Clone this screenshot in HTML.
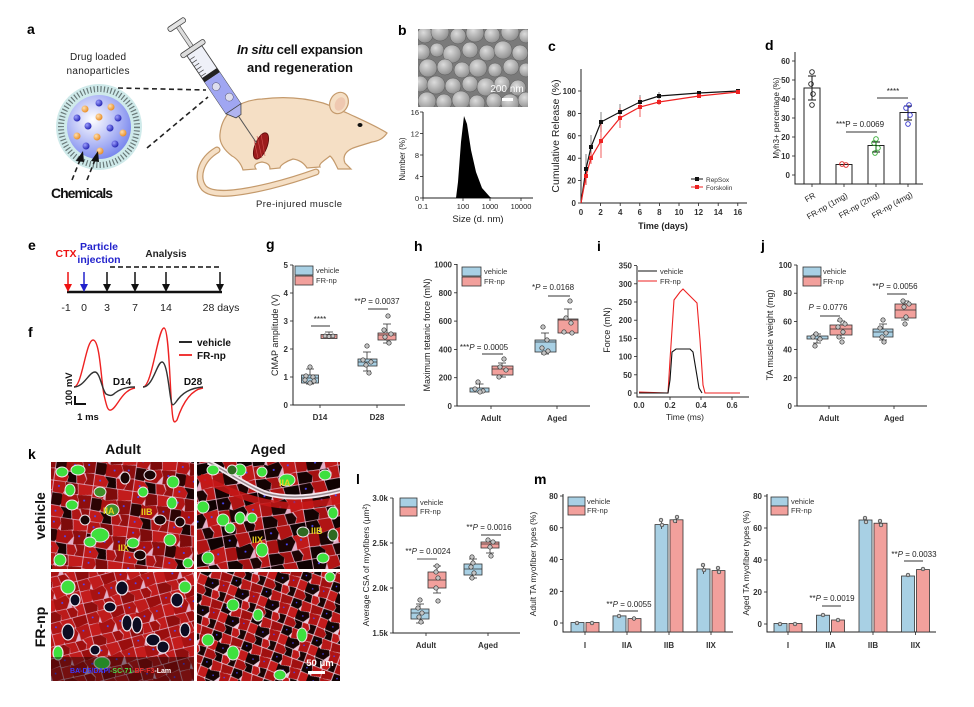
<!DOCTYPE html>
<html><head><meta charset="utf-8"><style>
html,body{margin:0;padding:0;background:#fff;}
svg{display:block;font-family:"Liberation Sans",Arial,sans-serif;}
.ax{stroke:#222;stroke-width:1;fill:none}
.tk{font-size:8px;fill:#333;font-weight:bold}
.tl{font-size:9px;fill:#222}
.bx{stroke:#333;stroke-width:.8}
.v{fill:#a8d0e4}.f{fill:#f2a09c}
.pt{fill:#c4c4c4;stroke:#333;stroke-width:.7}
.wl{stroke:#333;stroke-width:.8;fill:none}
.lt{font-size:14px;font-weight:bold;fill:#000}
.pv{font-size:8px;fill:#222}
.lg{font-size:7.5px;fill:#333}
.yl{font-size:9px;fill:#222}
</style></head><body>
<svg width="974" height="707" viewBox="0 0 974 707" xmlns="http://www.w3.org/2000/svg">
<defs>
<radialGradient id="sph" cx="40%" cy="38%" r="65%"><stop offset="0" stop-color="#ffffff"/><stop offset=".45" stop-color="#c4caf8"/><stop offset="1" stop-color="#7a88ee"/></radialGradient>
<radialGradient id="bd" cx="35%" cy="35%" r="70%"><stop offset="0" stop-color="#9ea0ff"/><stop offset="1" stop-color="#2020b0"/></radialGradient>
<radialGradient id="od" cx="35%" cy="35%" r="70%"><stop offset="0" stop-color="#ffe0b0"/><stop offset="1" stop-color="#e88a20"/></radialGradient>
<radialGradient id="sem" cx="40%" cy="35%" r="70%"><stop offset="0" stop-color="#dcdcdc"/><stop offset="1" stop-color="#8c8c8c"/></radialGradient>
<pattern id="cA" width="40" height="36" patternUnits="userSpaceOnUse" patternTransform="rotate(8) scale(1.0)">
<rect width="40" height="36" fill="#e2b0c8"/>
<g stroke-width=".8" stroke-linejoin="round">
<polygon points="0.8,0.8 11,0.5 13,6 10.5,11.5 0.8,11" fill="#b31515" stroke="#b31515"/>
<polygon points="12.5,0.5 24,0.8 25.5,10 14.5,12.5 14,6.5" fill="#7e0b0b" stroke="#7e0b0b"/>
<polygon points="25.5,0.8 39.2,0.8 39.2,9 27,11" fill="#c21c1c" stroke="#c21c1c"/>
<polygon points="0.8,12.5 9.5,12.5 13,18 9,24 0.8,23.5" fill="#2c0404" stroke="#2c0404"/>
<polygon points="11,12 14,13.5 24.5,11.5 27,17 22,24.5 11,24" fill="#a81212" stroke="#a81212"/>
<polygon points="26,11.8 39.2,10.5 39.2,23 28.5,24.5 28.5,17.5" fill="#8e0e0e" stroke="#8e0e0e"/>
<polygon points="0.8,25 9.5,25.5 14,30 12.5,35.2 0.8,35.2" fill="#c01a1a" stroke="#c01a1a"/>
<polygon points="11,25.5 21,26 22.5,35.2 14,35.2 15,30" fill="#1a0303" stroke="#1a0303"/>
<polygon points="22.5,26 29,25.8 32,31 30,35.2 24,35.2" fill="#b01616" stroke="#b01616"/>
<polygon points="31,25 39.2,24.5 39.2,35.2 31.5,35.2 33.5,30.5" fill="#951010" stroke="#951010"/>
</g>
<circle cx="6" cy="5" r="1" fill="#4848ff"/><circle cx="19" cy="18" r="1" fill="#4848ff"/><circle cx="33" cy="16" r="1" fill="#4848ff"/><circle cx="6" cy="30" r="1" fill="#4848ff"/>
</pattern>
<pattern id="cA2" width="40" height="36" patternUnits="userSpaceOnUse" patternTransform="rotate(-15) scale(.95)">
<rect width="40" height="36" fill="#e2b0c8"/>
<g stroke-width=".8" stroke-linejoin="round">
<polygon points="0.8,0.8 11,0.5 13,6 10.5,11.5 0.8,11" fill="#b01616" stroke="#b01616"/>
<polygon points="12.5,0.5 24,0.8 25.5,10 14.5,12.5 14,6.5" fill="#c01c1c" stroke="#c01c1c"/>
<polygon points="25.5,0.8 39.2,0.8 39.2,9 27,11" fill="#9a0e0e" stroke="#9a0e0e"/>
<polygon points="0.8,12.5 9.5,12.5 13,18 9,24 0.8,23.5" fill="#c41c1c" stroke="#c41c1c"/>
<polygon points="11,12 14,13.5 24.5,11.5 27,17 22,24.5 11,24" fill="#a81212" stroke="#a81212"/>
<polygon points="26,11.8 39.2,10.5 39.2,23 28.5,24.5 28.5,17.5" fill="#b51818" stroke="#b51818"/>
<polygon points="0.8,25 9.5,25.5 14,30 12.5,35.2 0.8,35.2" fill="#8e0e0e" stroke="#8e0e0e"/>
<polygon points="11,25.5 21,26 22.5,35.2 14,35.2 15,30" fill="#bb1a1a" stroke="#bb1a1a"/>
<polygon points="22.5,26 29,25.8 32,31 30,35.2 24,35.2" fill="#a01010" stroke="#a01010"/>
<polygon points="31,25 39.2,24.5 39.2,35.2 31.5,35.2 33.5,30.5" fill="#c21c1c" stroke="#c21c1c"/>
</g>
<circle cx="6" cy="5" r="1" fill="#4848ff"/><circle cx="19" cy="18" r="1" fill="#4848ff"/><circle cx="33" cy="16" r="1" fill="#4848ff"/>
</pattern>
<pattern id="cB" width="40" height="36" patternUnits="userSpaceOnUse" patternTransform="rotate(-10) scale(1.05)">
<rect width="40" height="36" fill="#e2b0c8"/>
<g stroke-width=".8" stroke-linejoin="round">
<polygon points="0.8,0.8 11,0.5 13,6 10.5,11.5 0.8,11" fill="#160303" stroke="#160303"/>
<polygon points="12.5,0.5 24,0.8 25.5,10 14.5,12.5 14,6.5" fill="#b01414" stroke="#b01414"/>
<polygon points="25.5,0.8 39.2,0.8 39.2,9 27,11" fill="#100202" stroke="#100202"/>
<polygon points="0.8,12.5 9.5,12.5 13,18 9,24 0.8,23.5" fill="#a81212" stroke="#a81212"/>
<polygon points="11,12 14,13.5 24.5,11.5 27,17 22,24.5 11,24" fill="#1a0404" stroke="#1a0404"/>
<polygon points="26,11.8 39.2,10.5 39.2,23 28.5,24.5 28.5,17.5" fill="#c01a1a" stroke="#c01a1a"/>
<polygon points="0.8,25 9.5,25.5 14,30 12.5,35.2 0.8,35.2" fill="#140303" stroke="#140303"/>
<polygon points="11,25.5 21,26 22.5,35.2 14,35.2 15,30" fill="#a51212" stroke="#a51212"/>
<polygon points="22.5,26 29,25.8 32,31 30,35.2 24,35.2" fill="#1c0404" stroke="#1c0404"/>
<polygon points="31,25 39.2,24.5 39.2,35.2 31.5,35.2 33.5,30.5" fill="#b81818" stroke="#b81818"/>
</g>
<circle cx="6" cy="5" r="1" fill="#4848ff"/><circle cx="19" cy="18" r="1" fill="#4848ff"/><circle cx="33" cy="16" r="1" fill="#4848ff"/>
</pattern>
<pattern id="cB2" width="40" height="36" patternUnits="userSpaceOnUse" patternTransform="rotate(20) scale(.8)">
<rect width="40" height="36" fill="#eccadb"/>
<g stroke-width=".6" stroke-linejoin="round">
<polygon points="0.8,0.8 11,0.5 13,6 10.5,11.5 0.8,11" fill="#120303" stroke="#120303"/>
<polygon points="12.5,0.5 24,0.8 25.5,10 14.5,12.5 14,6.5" fill="#b81818" stroke="#b81818"/>
<polygon points="25.5,0.8 39.2,0.8 39.2,9 27,11" fill="#a01010" stroke="#a01010"/>
<polygon points="0.8,12.5 9.5,12.5 13,18 9,24 0.8,23.5" fill="#c41c1c" stroke="#c41c1c"/>
<polygon points="11,12 14,13.5 24.5,11.5 27,17 22,24.5 11,24" fill="#160404" stroke="#160404"/>
<polygon points="26,11.8 39.2,10.5 39.2,23 28.5,24.5 28.5,17.5" fill="#b01414" stroke="#b01414"/>
<polygon points="0.8,25 9.5,25.5 14,30 12.5,35.2 0.8,35.2" fill="#a81212" stroke="#a81212"/>
<polygon points="11,25.5 21,26 22.5,35.2 14,35.2 15,30" fill="#120303" stroke="#120303"/>
<polygon points="22.5,26 29,25.8 32,31 30,35.2 24,35.2" fill="#c01a1a" stroke="#c01a1a"/>
<polygon points="31,25 39.2,24.5 39.2,35.2 31.5,35.2 33.5,30.5" fill="#180404" stroke="#180404"/>
</g>
<circle cx="6" cy="5" r="1" fill="#4848ff"/><circle cx="19" cy="18" r="1" fill="#4848ff"/><circle cx="33" cy="16" r="1" fill="#4848ff"/>
</pattern>
<clipPath id="k1"><rect x="51" y="462" width="143" height="107"/></clipPath>
<clipPath id="k2"><rect x="197" y="462" width="143" height="107"/></clipPath>
<clipPath id="k3"><rect x="51" y="572" width="143" height="109"/></clipPath>
<clipPath id="k4"><rect x="197" y="572" width="143" height="109"/></clipPath>
<clipPath id="semc"><rect x="418" y="29" width="110" height="78"/></clipPath>
</defs>

<!-- panel letters -->
<text class="lt" x="27" y="34">a</text>
<text class="lt" x="398" y="35">b</text>
<text class="lt" x="548" y="51">c</text>
<text class="lt" x="765" y="50">d</text>
<text class="lt" x="28" y="250">e</text>
<text class="lt" x="28" y="337">f</text>
<text class="lt" x="266" y="249">g</text>
<text class="lt" x="414" y="251">h</text>
<text class="lt" x="597" y="251">i</text>
<text class="lt" x="761" y="250">j</text>
<text class="lt" x="28" y="459">k</text>
<text class="lt" x="356" y="484">l</text>
<text class="lt" x="534" y="484">m</text>

<!-- ===== Panel a ===== -->
<text x="98" y="60" font-size="10" text-anchor="middle" fill="#222" textLength="56">Drug loaded</text>
<text x="98" y="74" font-size="10" text-anchor="middle" fill="#222" textLength="63">nanoparticles</text>
<circle cx="99" cy="127" r="43" fill="#cfeaea"/>
<circle cx="99" cy="127" r="38" fill="none" stroke="#6a7a7a" stroke-width="6" stroke-dasharray="1.2 2.2"/>
<circle cx="99" cy="127" r="32" fill="url(#sph)"/>
<g fill="url(#bd)">
<circle cx="99" cy="103" r="3.5"/><circle cx="77" cy="118" r="3.5"/><circle cx="118" cy="118" r="3.5"/><circle cx="88" cy="126" r="3.5"/><circle cx="110" cy="128" r="3.5"/><circle cx="86" cy="146" r="3.5"/><circle cx="115" cy="144" r="3.5"/>
</g>
<g fill="url(#od)">
<circle cx="85" cy="109" r="3.5"/><circle cx="111" cy="107" r="3.5"/><circle cx="99" cy="117" r="3.5"/><circle cx="77" cy="136" r="3.5"/><circle cx="97" cy="137" r="3.5"/><circle cx="123" cy="133" r="3.5"/><circle cx="100" cy="151" r="3.5"/>
</g>
<g stroke="#222" stroke-width="1.6" stroke-dasharray="5 3.5" fill="none">
<line x1="118" y1="88" x2="206" y2="90"/>
<line x1="147" y1="148" x2="208" y2="97"/>
<line x1="72" y1="180" x2="80" y2="160"/>
<line x1="87" y1="180" x2="95" y2="160"/>
</g>
<polygon points="83,151 76,161 84,162" fill="#111"/>
<polygon points="98,151 91,161 99,162" fill="#111"/>
<text x="82" y="198" font-size="14" font-weight="bold" text-anchor="middle" fill="#111" textLength="62">Chemicals</text>
<!-- mouse tail -->
<path d="M217,150 C200,160 196,178 204,188 C214,198 245,192 270,186 C290,181 305,176 316,172" fill="none" stroke="#c49a6c" stroke-width="7" stroke-linecap="round"/>
<path d="M217,150 C200,160 196,178 204,188 C214,198 245,192 270,186 C290,181 305,176 316,172" fill="none" stroke="#f5dfc5" stroke-width="4.5" stroke-linecap="round"/>
<!-- mouse body -->
<path d="M220,134 C222,112 240,100 262,99 C285,96 305,98 323,103 C332,106 340,110 347,113 C362,120 378,127 387,133 C383,139 378,141 372,142 C366,144 362,145 356,147 C346,150 342,156 345,163 L351,169 L338,169 C335,163 333,158 330,156 C325,160 318,164 320,167 L307,168 C304,163 300,160 293,159 C287,161 280,165 280,168 L270,169 C270,165 268,163 262,162 C256,163 253,165 256,169 L243,170 C241,163 236,158 232,156 C224,150 219,143 220,134 Z" fill="#f5dfc5" stroke="#c49a6c" stroke-width="1.2"/>
<ellipse cx="339" cy="103" rx="9" ry="11" transform="rotate(25 339 103)" fill="#f5dfc5" stroke="#c49a6c" stroke-width="1.2"/>
<ellipse cx="340" cy="104" rx="5" ry="7" transform="rotate(25 340 104)" fill="#efc8b0"/>
<ellipse cx="360" cy="125" rx="2.5" ry="2" fill="#111"/>
<ellipse cx="261" cy="146" rx="6" ry="14" transform="rotate(22 261 146)" fill="#9b1c1c" stroke="#5a0a0a" stroke-width=".8"/>
<g stroke="#d05050" stroke-width=".6"><line x1="257" y1="136" x2="262" y2="158"/><line x1="261" y1="134" x2="265" y2="156"/><line x1="254" y1="140" x2="258" y2="158"/></g>
<text x="299" y="207" font-size="9.5" text-anchor="middle" fill="#222" textLength="86">Pre-injured muscle</text>
<text x="300" y="54" font-size="13" font-weight="bold" text-anchor="middle" fill="#111" textLength="126"><tspan font-style="italic">In situ</tspan> cell expansion</text>
<text x="300" y="72" font-size="13" font-weight="bold" text-anchor="middle" fill="#111" textLength="106">and regeneration</text>
<!-- syringe -->
<g transform="translate(177,25) rotate(-34)">
<rect x="-10" y="-3" width="20" height="5" rx="2" fill="#e4e4e4" stroke="#444" stroke-width=".8"/>
<rect x="-2" y="2" width="4" height="26" fill="#ddd" stroke="#555" stroke-width=".7"/>
<rect x="-14" y="26" width="28" height="5" rx="2" fill="#ddd" stroke="#444" stroke-width=".8"/>
<rect x="-9" y="31" width="18" height="70" fill="#eef0f8" stroke="#444" stroke-width=".9"/>
<g stroke="#444" stroke-width=".7"><line x1="-9" y1="36" x2="-3" y2="36"/><line x1="-9" y1="40" x2="-3" y2="40"/><line x1="-9" y1="44" x2="-3" y2="44"/><line x1="-9" y1="48" x2="-3" y2="48"/><line x1="-9" y1="52" x2="-3" y2="52"/><line x1="-9" y1="56" x2="-3" y2="56"/></g>
<rect x="-9" y="58" width="18" height="5" fill="#222"/>
<rect x="-9" y="63" width="18" height="38" fill="#a0a6f2"/>
<circle cx="-2" cy="73" r="4" fill="#dde" stroke="#557" stroke-width=".5"/>
<circle cx="3" cy="89" r="4" fill="#dde" stroke="#557" stroke-width=".5"/>
<path d="M-9,101 L9,101 L3,110 L-3,110 Z" fill="#b0b4f0" stroke="#444" stroke-width=".8"/>
<line x1="0" y1="110" x2="0" y2="142" stroke="#555" stroke-width="1"/>
</g>

<!-- ===== Panel b ===== -->
<g clip-path="url(#semc)">
<rect x="418" y="29" width="110" height="78" fill="#7a7a7a"/>
<g fill="url(#sem)" stroke="#5a5a5a" stroke-width=".5">
<circle cx="425" cy="35" r="8"/><circle cx="440" cy="32" r="9"/><circle cx="458" cy="36" r="8"/><circle cx="475" cy="33" r="9"/><circle cx="492" cy="35" r="8"/><circle cx="510" cy="32" r="9"/><circle cx="526" cy="36" r="7"/>
<circle cx="422" cy="52" r="8"/><circle cx="437" cy="50" r="7"/><circle cx="452" cy="54" r="9"/><circle cx="470" cy="50" r="8"/><circle cx="487" cy="53" r="8"/><circle cx="503" cy="50" r="9"/><circle cx="520" cy="53" r="8"/>
<circle cx="428" cy="68" r="9"/><circle cx="445" cy="67" r="8"/><circle cx="462" cy="70" r="8"/><circle cx="478" cy="68" r="9"/><circle cx="495" cy="70" r="7"/><circle cx="511" cy="67" r="8"/><circle cx="526" cy="70" r="7"/>
<circle cx="420" cy="84" r="8"/><circle cx="436" cy="85" r="9"/><circle cx="453" cy="86" r="8"/><circle cx="470" cy="84" r="8"/><circle cx="486" cy="87" r="9"/><circle cx="502" cy="84" r="8"/><circle cx="518" cy="88" r="8"/>
<circle cx="427" cy="101" r="9"/><circle cx="444" cy="102" r="8"/><circle cx="461" cy="100" r="9"/><circle cx="477" cy="103" r="8"/><circle cx="494" cy="101" r="8"/><circle cx="510" cy="103" r="9"/><circle cx="526" cy="100" r="8"/>
</g>
</g>
<text x="507" y="92" font-size="10" fill="#fff" text-anchor="middle">200 nm</text>
<rect x="502" y="98" width="11" height="3" fill="#fff"/>
<path class="ax" d="M423,112 V198 H533"/>
<g stroke="#222" stroke-width=".8"><line x1="420" y1="112" x2="423" y2="112"/><line x1="420" y1="133.5" x2="423" y2="133.5"/><line x1="420" y1="155" x2="423" y2="155"/><line x1="420" y1="176.5" x2="423" y2="176.5"/><line x1="420" y1="198" x2="423" y2="198"/>
<line x1="423" y1="198" x2="423" y2="201"/><line x1="463" y1="198" x2="463" y2="201"/><line x1="490" y1="198" x2="490" y2="201"/><line x1="521" y1="198" x2="521" y2="201"/></g>
<g font-size="7.5" fill="#222" text-anchor="end"><text x="419" y="115">16</text><text x="419" y="136.5">12</text><text x="419" y="158">8</text><text x="419" y="179.5">4</text><text x="419" y="201">0</text></g>
<g font-size="7.5" fill="#222" text-anchor="middle"><text x="423" y="209">0.1</text><text x="463" y="209">100</text><text x="490" y="209">1000</text><text x="521" y="209">10000</text></g>
<text x="478" y="222" font-size="9.5" text-anchor="middle" fill="#222">Size (d. nm)</text>
<text transform="translate(405,159) rotate(-90)" font-size="8" text-anchor="middle" fill="#222">Number (%)</text>
<path d="M456,198 L458,182 L461,142 L464,116 L467,124 L471,150 L476,172 L482,188 L490,197 L492,198 Z" fill="#000"/>

<!-- ===== Panel c ===== -->
<path class="ax" d="M581,69 V203 H747"/>
<g stroke="#222" stroke-width=".8">
<line x1="578" y1="203" x2="581" y2="203"/><line x1="578" y1="180.6" x2="581" y2="180.6"/><line x1="578" y1="158.2" x2="581" y2="158.2"/><line x1="578" y1="135.8" x2="581" y2="135.8"/><line x1="578" y1="113.4" x2="581" y2="113.4"/><line x1="578" y1="91" x2="581" y2="91"/>
<line x1="600.6" y1="203" x2="600.6" y2="206"/><line x1="620.2" y1="203" x2="620.2" y2="206"/><line x1="639.8" y1="203" x2="639.8" y2="206"/><line x1="659.4" y1="203" x2="659.4" y2="206"/><line x1="679" y1="203" x2="679" y2="206"/><line x1="698.6" y1="203" x2="698.6" y2="206"/><line x1="718.2" y1="203" x2="718.2" y2="206"/><line x1="737.8" y1="203" x2="737.8" y2="206"/>
</g>
<g class="tk" text-anchor="end"><text x="576" y="206">0</text><text x="576" y="183.6">20</text><text x="576" y="161.2">40</text><text x="576" y="138.8">60</text><text x="576" y="116.4">80</text><text x="576" y="94">100</text></g>
<g class="tk" text-anchor="middle"><text x="581" y="215">0</text><text x="600.6" y="215">2</text><text x="620.2" y="215">4</text><text x="639.8" y="215">6</text><text x="659.4" y="215">8</text><text x="679" y="215">10</text><text x="698.6" y="215">12</text><text x="718.2" y="215">14</text><text x="737.8" y="215">16</text></g>
<text x="663" y="229" font-size="9" font-weight="bold" text-anchor="middle" fill="#222">Time (days)</text>
<text transform="translate(559,136) rotate(-90)" font-size="10.5" text-anchor="middle" fill="#222">Cumulative Release (%)</text>
<g stroke="#666" stroke-width=".8">
<line x1="586" y1="154" x2="586" y2="185"/><line x1="591" y1="135" x2="591" y2="159"/><line x1="601" y1="112" x2="601" y2="132"/><line x1="620" y1="104" x2="620" y2="120"/><line x1="640" y1="95" x2="640" y2="109"/><line x1="659" y1="92" x2="659" y2="99"/>
</g>
<g stroke="#e33" stroke-width=".8">
<line x1="586" y1="167" x2="586" y2="185"/><line x1="591" y1="152" x2="591" y2="164"/><line x1="601" y1="124" x2="601" y2="158"/><line x1="620" y1="108" x2="620" y2="128"/><line x1="640" y1="97" x2="640" y2="117"/><line x1="659" y1="99" x2="659" y2="105"/>
</g>
<polyline points="581,203 586,169 591,147 601,122 620,112 640,102 659,96 699,93 738,91" fill="none" stroke="#111" stroke-width="1.2"/>
<polyline points="581,203 586,176 591,158 601,141 620,118 640,107 659,102 699,96 738,92" fill="none" stroke="#e22" stroke-width="1.2"/>
<g fill="#111"><rect x="584" y="167" width="4" height="4"/><rect x="589" y="145" width="4" height="4"/><rect x="599" y="120" width="4" height="4"/><rect x="618" y="110" width="4" height="4"/><rect x="638" y="100" width="4" height="4"/><rect x="657" y="94" width="4" height="4"/><rect x="697" y="91" width="4" height="4"/><rect x="736" y="89" width="4" height="4"/></g>
<g fill="#e22"><rect x="584" y="174" width="4" height="4"/><rect x="589" y="156" width="4" height="4"/><rect x="599" y="139" width="4" height="4"/><rect x="618" y="116" width="4" height="4"/><rect x="638" y="105" width="4" height="4"/><rect x="657" y="100" width="4" height="4"/><rect x="697" y="94" width="4" height="4"/><rect x="736" y="90" width="4" height="4"/></g>
<line x1="691" y1="179" x2="703" y2="179" stroke="#111"/><rect x="695" y="177" width="4" height="4" fill="#111"/>
<text x="706" y="182" font-size="6.5" fill="#333">RepSox</text>
<line x1="691" y1="187" x2="703" y2="187" stroke="#e22"/><rect x="695" y="185" width="4" height="4" fill="#e22"/>
<text x="706" y="190" font-size="6.5" fill="#333">Forskolin</text>

<!-- ===== Panel d ===== -->
<path class="ax" d="M795,52 V184 H923"/>
<g stroke="#222" stroke-width=".8"><line x1="792" y1="175" x2="795" y2="175"/><line x1="792" y1="156" x2="795" y2="156"/><line x1="792" y1="137" x2="795" y2="137"/><line x1="792" y1="118" x2="795" y2="118"/><line x1="792" y1="99" x2="795" y2="99"/><line x1="792" y1="80" x2="795" y2="80"/><line x1="792" y1="61" x2="795" y2="61"/>
<line x1="812" y1="184" x2="812" y2="187"/><line x1="844" y1="184" x2="844" y2="187"/><line x1="876" y1="184" x2="876" y2="187"/><line x1="908" y1="184" x2="908" y2="187"/></g>
<g class="tk" text-anchor="end"><text x="790" y="178">0</text><text x="790" y="159">10</text><text x="790" y="140">20</text><text x="790" y="121">30</text><text x="790" y="102">40</text><text x="790" y="83">50</text><text x="790" y="64">60</text></g>
<text transform="translate(779,118) rotate(-90)" font-size="8" text-anchor="middle" fill="#222">Myh3+ percentage (%)</text>
<g fill="#fff" stroke="#222" stroke-width="1"><rect x="804" y="88" width="16" height="96"/><rect x="836" y="164.5" width="16" height="19.5"/><rect x="868" y="145.5" width="16" height="38.5"/><rect x="900" y="112.5" width="16" height="71.5"/></g>
<g stroke="#111" stroke-width="1"><line x1="812" y1="76" x2="812" y2="100"/><line x1="808" y1="76" x2="816" y2="76"/><line x1="808" y1="100" x2="816" y2="100"/>
<line x1="876" y1="142" x2="876" y2="152"/><line x1="872" y1="142" x2="880" y2="142"/><line x1="872" y1="152" x2="880" y2="152"/>
<line x1="908" y1="106" x2="908" y2="120"/><line x1="904" y1="106" x2="912" y2="106"/><line x1="904" y1="120" x2="912" y2="120"/></g>
<g fill="none" stroke-width=".9"><g stroke="#222"><circle cx="812" cy="72" r="2.3"/><circle cx="811" cy="84" r="2.3"/><circle cx="813" cy="94" r="2.3"/><circle cx="812" cy="105" r="2.3"/></g>
<g stroke="#d22"><circle cx="842" cy="164" r="2.3"/><circle cx="846" cy="165" r="2.3"/></g>
<g stroke="#3a3"><circle cx="876" cy="139" r="2.3"/><circle cx="874" cy="143" r="2.3"/><circle cx="878" cy="148" r="2.3"/><circle cx="875" cy="153" r="2.3"/></g>
<g stroke="#33c"><circle cx="909" cy="105" r="2.3"/><circle cx="906" cy="108" r="2.3"/><circle cx="910" cy="115" r="2.3"/><circle cx="908" cy="124" r="2.3"/></g></g>
<line x1="846" y1="132" x2="877" y2="132" stroke="#333" stroke-width=".9"/>
<text x="860" y="127" class="pv" text-anchor="middle">***P = 0.0069</text>
<line x1="877" y1="98" x2="908" y2="98" stroke="#333" stroke-width=".9"/>
<text x="893" y="94" class="pv" text-anchor="middle">****</text>
<g font-size="8" fill="#222" text-anchor="end">
<text transform="translate(816,197) rotate(-30)">FR</text>
<text transform="translate(848,197) rotate(-30)">FR-np (1mg)</text>
<text transform="translate(880,196) rotate(-30)">FR-np (2mg)</text>
<text transform="translate(913,196) rotate(-30)">FR-np (4mg)</text>
</g>

<!-- ===== Panel e ===== -->
<text x="66" y="257" font-size="10.5" font-weight="bold" fill="#e11" text-anchor="middle">CTX</text>
<text x="99" y="250" font-size="10.5" font-weight="bold" fill="#22c" text-anchor="middle">Particle</text>
<text x="99" y="263" font-size="10.5" font-weight="bold" fill="#22c" text-anchor="middle">injection</text>
<text x="166" y="257" font-size="10" font-weight="bold" fill="#222" text-anchor="middle">Analysis</text>
<line x1="110" y1="267" x2="222" y2="267" stroke="#111" stroke-width="1.5" stroke-dasharray="5 3"/>
<line x1="67" y1="292" x2="222" y2="292" stroke="#111" stroke-width="2.5"/>
<g stroke-width="1.5">
<line x1="68" y1="272" x2="68" y2="286" stroke="#e11"/><polygon points="64,284 72,284 68,292" fill="#e11"/>
<line x1="84" y1="272" x2="84" y2="286" stroke="#22c"/><polygon points="80,284 88,284 84,292" fill="#22c"/>
<line x1="107" y1="272" x2="107" y2="286" stroke="#111"/><polygon points="103,284 111,284 107,292" fill="#111"/>
<line x1="135" y1="272" x2="135" y2="286" stroke="#111"/><polygon points="131,284 139,284 135,292" fill="#111"/>
<line x1="166" y1="272" x2="166" y2="286" stroke="#111"/><polygon points="162,284 170,284 166,292" fill="#111"/>
<line x1="220" y1="272" x2="220" y2="286" stroke="#111"/><polygon points="216,284 224,284 220,292" fill="#111"/>
</g>
<g font-size="10.5" fill="#222" text-anchor="middle"><text x="66" y="311">-1</text><text x="84" y="311">0</text><text x="107" y="311">3</text><text x="135" y="311">7</text><text x="166" y="311">14</text><text x="221" y="311">28 days</text></g>

<!-- ===== Panel f ===== -->
<path d="M74,387 C82,387 86,340 93,340 C100,340 101,380 104,395 C107,408 108,411 111,410 C117,408 122,390 135,388" fill="none" stroke="#e22" stroke-width="1.4"/>
<path d="M74,387 C84,387 89,372 95,372 C100,372 102,390 106,394 C110,396 112,396 115,393 C120,389 126,387 135,387" fill="none" stroke="#333" stroke-width="1.4"/>
<path d="M143,387 C152,387 158,328 164,328 C169,328 170,390 172,410 C173,422 174,424 177,420 C182,405 190,390 203,388" fill="none" stroke="#e22" stroke-width="1.4"/>
<path d="M143,387 C153,387 157,362 162,362 C167,362 169,390 171,400 C172,406 173,406 176,402 C182,393 190,388 203,387" fill="none" stroke="#333" stroke-width="1.4"/>
<text x="122" y="385" font-size="10" font-weight="bold" fill="#111" text-anchor="middle">D14</text>
<text x="193" y="385" font-size="10" font-weight="bold" fill="#111" text-anchor="middle">D28</text>
<line x1="179" y1="342" x2="192" y2="342" stroke="#111" stroke-width="1.8"/>
<text x="197" y="346" font-size="10" font-weight="bold" fill="#111">vehicle</text>
<line x1="179" y1="355" x2="192" y2="355" stroke="#e22" stroke-width="1.8"/>
<text x="197" y="359" font-size="10" font-weight="bold" fill="#111">FR-np</text>
<path d="M75,396 V404 H86" fill="none" stroke="#111" stroke-width="2"/>
<text transform="translate(72,389) rotate(-90)" font-size="9.5" font-weight="bold" fill="#111" text-anchor="middle">100 mV</text>
<text x="88" y="420" font-size="9.5" font-weight="bold" fill="#111" text-anchor="middle">1 ms</text>

<!-- ===== Panel g ===== -->
<path class="ax" d="M293,265 V405 H405"/>
<g stroke="#222" stroke-width=".8"><line x1="290" y1="405" x2="293" y2="405"/><line x1="290" y1="377" x2="293" y2="377"/><line x1="290" y1="349" x2="293" y2="349"/><line x1="290" y1="321" x2="293" y2="321"/><line x1="290" y1="293" x2="293" y2="293"/><line x1="290" y1="265" x2="293" y2="265"/><line x1="320" y1="405" x2="320" y2="408"/><line x1="377" y1="405" x2="377" y2="408"/></g>
<g class="tk" text-anchor="end"><text x="288" y="408">0</text><text x="288" y="380">1</text><text x="288" y="352">2</text><text x="288" y="324">3</text><text x="288" y="296">4</text><text x="288" y="268">5</text></g>
<g class="tk" text-anchor="middle"><text x="320" y="420">D14</text><text x="377" y="420">D28</text></g>
<text transform="translate(278,335) rotate(-90)" class="yl" text-anchor="middle">CMAP amplitude (V)</text>
<rect x="295" y="266" width="18" height="9" class="v bx"/><rect x="295" y="276" width="18" height="9" class="f bx"/>
<text x="316" y="273" class="lg">vehicle</text><text x="316" y="283" class="lg">FR-np</text>
<g class="wl"><line x1="310" y1="369" x2="310" y2="384"/><line x1="306" y1="369" x2="314" y2="369"/><line x1="306" y1="384" x2="314" y2="384"/></g>
<rect x="301.5" y="375" width="17" height="8" class="v bx"/><line x1="301.5" y1="378" x2="318.5" y2="378" class="wl"/>
<g class="pt"><circle cx="310" cy="367" r="2.2"/><circle cx="306" cy="376" r="2.2"/><circle cx="313" cy="377" r="2.2"/><circle cx="305" cy="380" r="2.2"/><circle cx="314" cy="381" r="2.2"/><circle cx="310" cy="383" r="2.2"/></g>
<g class="wl"><line x1="329" y1="332" x2="329" y2="339"/><line x1="325" y1="332" x2="333" y2="332"/></g>
<rect x="321" y="334.5" width="16" height="4" class="f bx"/>
<g class="pt"><circle cx="325" cy="336" r="2"/><circle cx="329" cy="336.5" r="2"/><circle cx="333" cy="336" r="2"/></g>
<g class="wl"><line x1="367" y1="352" x2="367" y2="371"/><line x1="363" y1="352" x2="371" y2="352"/><line x1="363" y1="371" x2="371" y2="371"/></g>
<rect x="358" y="359" width="19" height="7" class="v bx"/><line x1="358" y1="362" x2="377" y2="362" class="wl"/>
<g class="pt"><circle cx="367" cy="346" r="2.2"/><circle cx="363" cy="360" r="2.2"/><circle cx="371" cy="362" r="2.2"/><circle cx="366" cy="365" r="2.2"/><circle cx="369" cy="373" r="2.2"/></g>
<g class="wl"><line x1="387" y1="324" x2="387" y2="343"/><line x1="383" y1="324" x2="391" y2="324"/><line x1="383" y1="343" x2="391" y2="343"/></g>
<rect x="378" y="333" width="18" height="7" class="f bx"/><line x1="378" y1="335" x2="396" y2="335" class="wl"/>
<g class="pt"><circle cx="388" cy="316" r="2.2"/><circle cx="384" cy="330" r="2.2"/><circle cx="391" cy="334" r="2.2"/><circle cx="385" cy="337" r="2.2"/><circle cx="389" cy="343" r="2.2"/></g>
<line x1="311" y1="326" x2="330" y2="326" stroke="#333" stroke-width=".9"/><text x="320" y="322" class="pv" text-anchor="middle">****</text>
<line x1="368" y1="309" x2="388" y2="309" stroke="#333" stroke-width=".9"/><text x="377" y="304" class="pv" text-anchor="middle">**<tspan font-style="italic">P</tspan> = 0.0037</text>

<!-- ===== Panel h ===== -->
<path class="ax" d="M457,264 V406 H590"/>
<g stroke="#222" stroke-width=".8"><line x1="454" y1="406" x2="457" y2="406"/><line x1="454" y1="377.7" x2="457" y2="377.7"/><line x1="454" y1="349.4" x2="457" y2="349.4"/><line x1="454" y1="321.1" x2="457" y2="321.1"/><line x1="454" y1="292.8" x2="457" y2="292.8"/><line x1="454" y1="264.5" x2="457" y2="264.5"/><line x1="491" y1="406" x2="491" y2="409"/><line x1="557" y1="406" x2="557" y2="409"/></g>
<g class="tk" text-anchor="end"><text x="452" y="409">0</text><text x="452" y="380.7">200</text><text x="452" y="352.4">400</text><text x="452" y="324.1">600</text><text x="452" y="295.8">800</text><text x="452" y="267.5">1000</text></g>
<g class="tk" text-anchor="middle"><text x="491" y="421">Adult</text><text x="557" y="421">Aged</text></g>
<text transform="translate(430,335) rotate(-90)" class="yl" text-anchor="middle">Maximum tetanic force (mN)</text>
<rect x="462" y="267" width="19" height="9" class="v bx"/><rect x="462" y="277" width="19" height="9" class="f bx"/>
<text x="484" y="274" class="lg">vehicle</text><text x="484" y="284" class="lg">FR-np</text>
<g class="wl"><line x1="479.5" y1="384" x2="479.5" y2="393"/><line x1="475.5" y1="384" x2="483.5" y2="384"/></g>
<rect x="470" y="388" width="19" height="4" class="v bx"/>
<g class="pt"><circle cx="478" cy="382" r="2.2"/><circle cx="475" cy="389" r="2.2"/><circle cx="483" cy="391" r="2.2"/><circle cx="480" cy="392" r="2.2"/></g>
<g class="wl"><line x1="502" y1="363" x2="502" y2="377"/><line x1="498" y1="363" x2="506" y2="363"/><line x1="498" y1="377" x2="506" y2="377"/></g>
<rect x="492" y="366" width="21" height="9" class="f bx"/><line x1="492" y1="369" x2="513" y2="369" class="wl"/>
<g class="pt"><circle cx="504" cy="359" r="2.2"/><circle cx="500" cy="367" r="2.2"/><circle cx="506" cy="370" r="2.2"/><circle cx="499" cy="377" r="2.2"/></g>
<g class="wl"><line x1="545" y1="333" x2="545" y2="354"/><line x1="541" y1="333" x2="549" y2="333"/><line x1="541" y1="354" x2="549" y2="354"/></g>
<rect x="535" y="340" width="21" height="12" class="v bx"/><line x1="535" y1="342" x2="556" y2="342" class="wl"/>
<g class="pt"><circle cx="543" cy="327" r="2.2"/><circle cx="547" cy="340" r="2.2"/><circle cx="542" cy="348" r="2.2"/><circle cx="548" cy="351" r="2.2"/><circle cx="544" cy="353" r="2.2"/></g>
<g class="wl"><line x1="568" y1="309" x2="568" y2="333"/><line x1="564" y1="309" x2="572" y2="309"/></g>
<rect x="558" y="319" width="20" height="14" class="f bx"/><line x1="558" y1="320" x2="578" y2="320" class="wl"/>
<g class="pt"><circle cx="570" cy="301" r="2.2"/><circle cx="566" cy="318" r="2.2"/><circle cx="571" cy="323" r="2.2"/><circle cx="564" cy="332" r="2.2"/><circle cx="572" cy="333" r="2.2"/></g>
<line x1="482" y1="354" x2="503" y2="354" stroke="#333" stroke-width=".9"/><text x="484" y="350" class="pv" text-anchor="middle">***<tspan font-style="italic">P</tspan> = 0.0005</text>
<line x1="548" y1="296" x2="570" y2="296" stroke="#333" stroke-width=".9"/><text x="553" y="290" class="pv" text-anchor="middle">*<tspan font-style="italic">P</tspan> = 0.0168</text>

<!-- ===== Panel i ===== -->
<path class="ax" d="M637,266 V397 H749"/>
<g stroke="#222" stroke-width=".8"><line x1="634" y1="393" x2="637" y2="393"/><line x1="634" y1="374.8" x2="637" y2="374.8"/><line x1="634" y1="356.6" x2="637" y2="356.6"/><line x1="634" y1="338.4" x2="637" y2="338.4"/><line x1="634" y1="320.2" x2="637" y2="320.2"/><line x1="634" y1="302" x2="637" y2="302"/><line x1="634" y1="283.8" x2="637" y2="283.8"/><line x1="634" y1="265.6" x2="637" y2="265.6"/>
<line x1="670" y1="397" x2="670" y2="400"/><line x1="701" y1="397" x2="701" y2="400"/><line x1="732" y1="397" x2="732" y2="400"/></g>
<g class="tk" text-anchor="end"><text x="632" y="396">0</text><text x="632" y="377.8">50</text><text x="632" y="359.6">100</text><text x="632" y="341.4">150</text><text x="632" y="323.2">200</text><text x="632" y="305">250</text><text x="632" y="286.8">300</text><text x="632" y="268.6">350</text></g>
<g class="tk" text-anchor="middle"><text x="639" y="408">0.0</text><text x="670" y="408">0.2</text><text x="701" y="408">0.4</text><text x="732" y="408">0.6</text></g>
<text x="685" y="420" font-size="8.5" fill="#222" text-anchor="middle">Time (ms)</text>
<text transform="translate(610,330) rotate(-90)" class="yl" text-anchor="middle">Force (mN)</text>
<line x1="638" y1="271" x2="657" y2="271" stroke="#111"/><text x="660" y="274" class="lg">vehicle</text>
<line x1="638" y1="281" x2="657" y2="281" stroke="#e22"/><text x="660" y="284" class="lg">FR-np</text>
<polyline points="639,392 668,393 670,360 674,300 680,292 683,289 686,292 690,296 694,300 697,303 700,340 703,385 705,393 740,393" fill="none" stroke="#e22" stroke-width="1.1"/>
<polyline points="639,393 668,393 670,380 672,352 676,349 690,349 693,352 696,370 699,388 702,393" fill="none" stroke="#111" stroke-width="1.1"/>

<!-- ===== Panel j ===== -->
<path class="ax" d="M797,265 V406 H927"/>
<g stroke="#222" stroke-width=".8"><line x1="794" y1="406" x2="797" y2="406"/><line x1="794" y1="377.8" x2="797" y2="377.8"/><line x1="794" y1="349.6" x2="797" y2="349.6"/><line x1="794" y1="321.4" x2="797" y2="321.4"/><line x1="794" y1="293.2" x2="797" y2="293.2"/><line x1="794" y1="265" x2="797" y2="265"/><line x1="829" y1="406" x2="829" y2="409"/><line x1="894" y1="406" x2="894" y2="409"/></g>
<g class="tk" text-anchor="end"><text x="792" y="409">0</text><text x="792" y="380.8">20</text><text x="792" y="352.6">40</text><text x="792" y="324.4">60</text><text x="792" y="296.2">80</text><text x="792" y="268">100</text></g>
<g class="tk" text-anchor="middle"><text x="829" y="421">Adult</text><text x="894" y="421">Aged</text></g>
<text transform="translate(773,335) rotate(-90)" class="yl" text-anchor="middle">TA muscle weight (mg)</text>
<rect x="803" y="267" width="18" height="9" class="v bx"/><rect x="803" y="277" width="18" height="9" class="f bx"/>
<text x="823" y="274" class="lg">vehicle</text><text x="823" y="284" class="lg">FR-np</text>
<g class="wl"><line x1="817" y1="334" x2="817" y2="343"/><line x1="813" y1="334" x2="821" y2="334"/><line x1="813" y1="343" x2="821" y2="343"/></g>
<rect x="807" y="336" width="21" height="3" class="v bx"/>
<g class="pt"><circle cx="816" cy="334" r="2.2"/><circle cx="813" cy="337" r="2.2"/><circle cx="820" cy="339" r="2.2"/><circle cx="815" cy="346" r="2.2"/></g>
<g class="wl"><line x1="841" y1="321" x2="841" y2="338"/><line x1="837" y1="321" x2="845" y2="321"/><line x1="837" y1="338" x2="845" y2="338"/></g>
<rect x="830" y="325" width="22" height="10" class="f bx"/><line x1="830" y1="329" x2="852" y2="329" class="wl"/>
<g class="pt"><circle cx="840" cy="320" r="2.2"/><circle cx="845" cy="324" r="2.2"/><circle cx="838" cy="327" r="2.2"/><circle cx="843" cy="332" r="2.2"/><circle cx="839" cy="337" r="2.2"/><circle cx="842" cy="342" r="2.2"/></g>
<g class="wl"><line x1="883" y1="324" x2="883" y2="340"/><line x1="879" y1="324" x2="887" y2="324"/><line x1="879" y1="340" x2="887" y2="340"/></g>
<rect x="873" y="329" width="20" height="8" class="v bx"/><line x1="873" y1="332" x2="893" y2="332" class="wl"/>
<g class="pt"><circle cx="883" cy="320" r="2.2"/><circle cx="880" cy="328" r="2.2"/><circle cx="886" cy="333" r="2.2"/><circle cx="882" cy="337" r="2.2"/><circle cx="884" cy="342" r="2.2"/></g>
<g class="wl"><line x1="905" y1="301" x2="905" y2="320"/><line x1="901" y1="301" x2="909" y2="301"/><line x1="901" y1="320" x2="909" y2="320"/></g>
<rect x="895" y="304" width="21" height="14" class="f bx"/><line x1="895" y1="310" x2="916" y2="310" class="wl"/>
<g class="pt"><circle cx="903" cy="301" r="2.2"/><circle cx="909" cy="304" r="2.2"/><circle cx="904" cy="307" r="2.2"/><circle cx="906" cy="317" r="2.2"/><circle cx="905" cy="324" r="2.2"/></g>
<line x1="820" y1="316" x2="840" y2="316" stroke="#333" stroke-width=".9"/><text x="828" y="310" class="pv" text-anchor="middle"><tspan font-style="italic">P</tspan> = 0.0776</text>
<line x1="887" y1="294" x2="907" y2="294" stroke="#333" stroke-width=".9"/><text x="895" y="289" class="pv" text-anchor="middle">**<tspan font-style="italic">P</tspan> = 0.0056</text>

<!-- ===== Panel k ===== -->
<text x="123" y="454" font-size="14" font-weight="bold" text-anchor="middle" fill="#111">Adult</text>
<text x="268" y="454" font-size="14" font-weight="bold" text-anchor="middle" fill="#111">Aged</text>
<text transform="translate(45,516) rotate(-90)" font-size="14" font-weight="bold" text-anchor="middle" fill="#111">vehicle</text>
<text transform="translate(45,627) rotate(-90)" font-size="14" font-weight="bold" text-anchor="middle" fill="#111">FR-np</text>
<!-- k1 -->
<g clip-path="url(#k1)">
<rect x="51" y="462" width="143" height="107" fill="url(#cA)"/>
<g stroke="#f0e4ec" stroke-width="1">
<g fill="#1a0606"><ellipse cx="150" cy="475" rx="6" ry="5"/><ellipse cx="125" cy="478" rx="5" ry="6"/><ellipse cx="160" cy="520" rx="6" ry="5"/><ellipse cx="85" cy="520" rx="5" ry="5"/><ellipse cx="140" cy="555" rx="6" ry="5"/><ellipse cx="180" cy="522" rx="5" ry="5"/></g>
<g fill="#3ee03e"><ellipse cx="62" cy="472" rx="6" ry="5"/><ellipse cx="78" cy="470" rx="7" ry="5"/><ellipse cx="70" cy="490" rx="5" ry="6"/><ellipse cx="143" cy="492" rx="5" ry="5"/><ellipse cx="173" cy="482" rx="6" ry="6"/><ellipse cx="72" cy="505" rx="6" ry="5"/><ellipse cx="100" cy="535" rx="9" ry="7"/><ellipse cx="90" cy="542" rx="6" ry="5"/><ellipse cx="133" cy="543" rx="6" ry="5"/><ellipse cx="170" cy="540" rx="6" ry="6"/><ellipse cx="60" cy="560" rx="6" ry="6"/><ellipse cx="188" cy="563" rx="5" ry="5"/><ellipse cx="172" cy="503" rx="5" ry="6"/></g>
<g fill="#3f8f2a"><ellipse cx="100" cy="492" rx="6" ry="5"/><ellipse cx="112" cy="510" rx="7" ry="6"/></g>
</g>
</g>
<!-- k2 -->
<g clip-path="url(#k2)">
<rect x="197" y="462" width="143" height="107" fill="url(#cB)"/>
<path d="M200,477 C230,492 260,506 300,506 L342,500" fill="none" stroke="#c81818" stroke-width="7" opacity=".85"/>
<path d="M208,462 C225,470 245,485 265,493 C290,500 315,497 342,490" fill="none" stroke="#f4e8ee" stroke-width="5"/>
<path d="M208,462 C225,470 245,485 265,493 C290,500 315,497 342,490" fill="none" stroke="#9a8a90" stroke-width="1.5"/>
<g stroke="#f0e4ec" stroke-width="1">
<g fill="#3ee03e"><ellipse cx="213" cy="470" rx="6" ry="5"/><ellipse cx="240" cy="470" rx="6" ry="6"/><ellipse cx="262" cy="472" rx="5" ry="5"/><ellipse cx="287" cy="480" rx="8" ry="6"/><ellipse cx="325" cy="475" rx="6" ry="5"/><ellipse cx="203" cy="507" rx="6" ry="6"/><ellipse cx="223" cy="520" rx="6" ry="6"/><ellipse cx="230" cy="528" rx="5" ry="5"/><ellipse cx="240" cy="518" rx="5" ry="6"/><ellipse cx="252" cy="518" rx="5" ry="5"/><ellipse cx="262" cy="550" rx="6" ry="7"/><ellipse cx="208" cy="558" rx="6" ry="6"/><ellipse cx="333" cy="513" rx="5" ry="6"/><ellipse cx="323" cy="558" rx="6" ry="5"/></g>
<g fill="#2f6a22"><ellipse cx="303" cy="532" rx="6" ry="5"/><ellipse cx="333" cy="535" rx="5" ry="6"/><ellipse cx="232" cy="470" rx="5" ry="5"/></g>
</g>
</g>
<!-- k3 -->
<g clip-path="url(#k3)">
<rect x="51" y="572" width="143" height="109" fill="url(#cA2)"/>
<g stroke="#f0e4ec" stroke-width="1.2">
<g fill="#0c0c22"><ellipse cx="122" cy="588" rx="6" ry="7"/><ellipse cx="68" cy="632" rx="6" ry="8"/><ellipse cx="127" cy="623" rx="5" ry="8"/><ellipse cx="137" cy="625" rx="5" ry="8"/><ellipse cx="153" cy="640" rx="7" ry="6"/><ellipse cx="163" cy="647" rx="6" ry="6"/><ellipse cx="177" cy="600" rx="6" ry="7"/><ellipse cx="110" cy="607" rx="6" ry="5"/><ellipse cx="75" cy="600" rx="5" ry="6"/><ellipse cx="185" cy="630" rx="5" ry="7"/><ellipse cx="95" cy="650" rx="5" ry="5"/></g>
<g fill="#3ee03e"><ellipse cx="68" cy="587" rx="7" ry="7"/><ellipse cx="185" cy="587" rx="6" ry="6"/><ellipse cx="58" cy="653" rx="5" ry="7"/><ellipse cx="102" cy="663" rx="8" ry="6"/></g>
</g>
<rect x="51" y="657" width="143" height="24" fill="#000" opacity=".4"/>
</g>
<text x="70" y="673" font-size="7" font-weight="bold"><tspan fill="#3a3aff">BA-D5/DAPI</tspan><tspan fill="#4ae04a">-SC-71-</tspan><tspan fill="#e83030">BF-F3</tspan><tspan fill="#fff">-Lam</tspan></text>
<!-- k4 -->
<g clip-path="url(#k4)">
<rect x="197" y="572" width="143" height="109" fill="url(#cB2)"/>
<g stroke="#f0e4ec" stroke-width="1" fill="#3ee03e"><ellipse cx="233" cy="605" rx="6" ry="6"/><ellipse cx="258" cy="615" rx="5" ry="6"/><ellipse cx="208" cy="640" rx="6" ry="6"/><ellipse cx="233" cy="653" rx="6" ry="7"/><ellipse cx="280" cy="675" rx="6" ry="5"/><ellipse cx="302" cy="635" rx="5" ry="7"/><ellipse cx="330" cy="577" rx="5" ry="5"/></g>
</g>
<g font-size="9" font-weight="bold" fill="#e8d020">
<text x="103" y="514">IIA</text><text x="141" y="515">IIB</text><text x="118" y="551">IIX</text>
<text x="279" y="486">IIA</text><text x="311" y="534">IIB</text><text x="252" y="543">IIX</text>
</g>
<text x="320" y="666" font-size="9.5" font-weight="bold" fill="#fff" text-anchor="middle">50 μm</text>
<rect x="308" y="671" width="17" height="3" fill="#fff"/>

<!-- ===== Panel l ===== -->
<path class="ax" d="M393,498 V633 H520"/>
<g stroke="#222" stroke-width=".8"><line x1="390" y1="633" x2="393" y2="633"/><line x1="390" y1="588" x2="393" y2="588"/><line x1="390" y1="543" x2="393" y2="543"/><line x1="390" y1="498" x2="393" y2="498"/><line x1="426" y1="633" x2="426" y2="636"/><line x1="488" y1="633" x2="488" y2="636"/></g>
<g class="tk" text-anchor="end"><text x="388" y="636">1.5k</text><text x="388" y="591">2.0k</text><text x="388" y="546">2.5k</text><text x="388" y="501">3.0k</text></g>
<g class="tk" text-anchor="middle"><text x="426" y="648">Adult</text><text x="488" y="648">Aged</text></g>
<text transform="translate(369,565) rotate(-90)" font-size="8.5" fill="#222" text-anchor="middle">Average CSA of myofibers (μm²)</text>
<rect x="400" y="498" width="17" height="9" class="v bx"/><rect x="400" y="507" width="17" height="9" class="f bx"/>
<text x="420" y="505" class="lg">vehicle</text><text x="420" y="514" class="lg">FR-np</text>
<g class="wl"><line x1="420" y1="604" x2="420" y2="623"/><line x1="416" y1="604" x2="424" y2="604"/><line x1="416" y1="623" x2="424" y2="623"/></g>
<rect x="411" y="609" width="18" height="10" class="v bx"/><line x1="411" y1="613" x2="429" y2="613" class="wl"/>
<g class="pt"><circle cx="420" cy="600" r="2.2"/><circle cx="418" cy="608" r="2.2"/><circle cx="422" cy="613" r="2.2"/><circle cx="419" cy="617" r="2.2"/><circle cx="421" cy="622" r="2.2"/></g>
<g class="wl"><line x1="437" y1="566" x2="437" y2="593"/><line x1="433" y1="566" x2="441" y2="566"/><line x1="433" y1="593" x2="441" y2="593"/></g>
<rect x="428" y="572" width="18" height="16" class="f bx"/><line x1="428" y1="580" x2="446" y2="580" class="wl"/>
<g class="pt"><circle cx="437" cy="566" r="2.2"/><circle cx="436" cy="572" r="2.2"/><circle cx="438" cy="578" r="2.2"/><circle cx="436" cy="588" r="2.2"/><circle cx="438" cy="601" r="2.2"/></g>
<g class="wl"><line x1="473" y1="559" x2="473" y2="578"/><line x1="469" y1="559" x2="477" y2="559"/><line x1="469" y1="578" x2="477" y2="578"/></g>
<rect x="464" y="564" width="18" height="11" class="v bx"/><line x1="464" y1="569" x2="482" y2="569" class="wl"/>
<g class="pt"><circle cx="472" cy="557" r="2.2"/><circle cx="473" cy="563" r="2.2"/><circle cx="471" cy="567" r="2.2"/><circle cx="474" cy="573" r="2.2"/><circle cx="472" cy="578" r="2.2"/></g>
<g class="wl"><line x1="490" y1="540" x2="490" y2="553"/><line x1="486" y1="553" x2="494" y2="553"/></g>
<rect x="481" y="542" width="18" height="6" class="f bx"/><line x1="481" y1="544" x2="499" y2="544" class="wl"/>
<g class="pt"><circle cx="488" cy="540" r="2.2"/><circle cx="493" cy="542" r="2.2"/><circle cx="490" cy="547" r="2.2"/><circle cx="491" cy="556" r="2.2"/></g>
<line x1="417" y1="559" x2="437" y2="559" stroke="#555" stroke-width="1"/><text x="428" y="554" class="pv" text-anchor="middle">**<tspan font-style="italic">P</tspan> = 0.0024</text>
<line x1="481" y1="535" x2="501" y2="535" stroke="#333" stroke-width=".9"/><text x="489" y="530" class="pv" text-anchor="middle">**<tspan font-style="italic">P</tspan> = 0.0016</text>

<!-- ===== Panel m left ===== -->
<path class="ax" d="M563,494 V632 H733"/>
<g stroke="#222" stroke-width=".8"><line x1="560" y1="623" x2="563" y2="623"/><line x1="560" y1="591.3" x2="563" y2="591.3"/><line x1="560" y1="559.5" x2="563" y2="559.5"/><line x1="560" y1="527.8" x2="563" y2="527.8"/><line x1="560" y1="496" x2="563" y2="496"/>
<line x1="585" y1="632" x2="585" y2="635"/><line x1="627" y1="632" x2="627" y2="635"/><line x1="669" y1="632" x2="669" y2="635"/><line x1="711" y1="632" x2="711" y2="635"/></g>
<g class="tk" text-anchor="end"><text x="558" y="626">0</text><text x="558" y="594.3">20</text><text x="558" y="562.5">40</text><text x="558" y="530.8">60</text><text x="558" y="499">80</text></g>
<g class="tk" text-anchor="middle"><text x="585" y="648">I</text><text x="627" y="648">IIA</text><text x="669" y="648">IIB</text><text x="711" y="648">IIX</text></g>
<text transform="translate(536,564) rotate(-90)" font-size="8.5" fill="#222" text-anchor="middle">Adult TA myofiber types (%)</text>
<rect x="568" y="497" width="17" height="9" class="v bx"/><rect x="568" y="506" width="17" height="9" class="f bx"/>
<text x="587" y="504" class="lg">vehicle</text><text x="587" y="513" class="lg">FR-np</text>
<g class="bx">
<rect x="571" y="622.5" width="13" height="9.5" class="v"/><rect x="586" y="622.5" width="13" height="9.5" class="f"/>
<rect x="613" y="615.9" width="13" height="16.1" class="v"/><rect x="628" y="618.6" width="13" height="13.4" class="f"/>
<rect x="655" y="524.6" width="13" height="107.4" class="v"/><rect x="670" y="519.8" width="13" height="112.2" class="f"/>
<rect x="697" y="569" width="13" height="63" class="v"/><rect x="712" y="570.6" width="13" height="61.4" class="f"/>
</g>
<g class="wl"><line x1="661.5" y1="520" x2="661.5" y2="529"/><line x1="676.5" y1="516" x2="676.5" y2="523"/><line x1="703.5" y1="564" x2="703.5" y2="574"/><line x1="718.5" y1="567" x2="718.5" y2="574"/></g>
<g class="pt"><circle cx="577" cy="623" r="1.8"/><circle cx="592" cy="623" r="1.8"/><circle cx="619" cy="616" r="1.8"/><circle cx="634" cy="618.5" r="1.8"/>
<circle cx="661" cy="520" r="1.8"/><circle cx="662" cy="525" r="1.8"/><circle cx="677" cy="517" r="1.8"/><circle cx="675" cy="521" r="1.8"/>
<circle cx="703" cy="565" r="1.8"/><circle cx="704" cy="570" r="1.8"/><circle cx="718" cy="568" r="1.8"/><circle cx="719" cy="572" r="1.8"/></g>
<line x1="619" y1="611" x2="638" y2="611" stroke="#333" stroke-width=".9"/><text x="629" y="607" class="pv" text-anchor="middle">**<tspan font-style="italic">P</tspan> = 0.0055</text>

<!-- ===== Panel m right ===== -->
<path class="ax" d="M767,494 V632 H936"/>
<g stroke="#222" stroke-width=".8"><line x1="764" y1="624" x2="767" y2="624"/><line x1="764" y1="592" x2="767" y2="592"/><line x1="764" y1="560" x2="767" y2="560"/><line x1="764" y1="528" x2="767" y2="528"/><line x1="764" y1="496" x2="767" y2="496"/>
<line x1="788" y1="632" x2="788" y2="635"/><line x1="830.5" y1="632" x2="830.5" y2="635"/><line x1="873" y1="632" x2="873" y2="635"/><line x1="915.5" y1="632" x2="915.5" y2="635"/></g>
<g class="tk" text-anchor="end"><text x="762" y="627">0</text><text x="762" y="595">20</text><text x="762" y="563">40</text><text x="762" y="531">60</text><text x="762" y="499">80</text></g>
<g class="tk" text-anchor="middle"><text x="788" y="648">I</text><text x="830.5" y="648">IIA</text><text x="873" y="648">IIB</text><text x="915.5" y="648">IIX</text></g>
<text transform="translate(749,563) rotate(-90)" font-size="8.5" fill="#222" text-anchor="middle">Aged TA myofiber types (%)</text>
<rect x="771" y="497" width="17" height="9" class="v bx"/><rect x="771" y="506" width="17" height="9" class="f bx"/>
<text x="791" y="504" class="lg">vehicle</text><text x="791" y="513" class="lg">FR-np</text>
<g class="bx">
<rect x="774" y="623.5" width="13" height="8.5" class="v"/><rect x="789" y="623.5" width="13" height="8.5" class="f"/>
<rect x="816.5" y="615.2" width="13" height="16.8" class="v"/><rect x="831.5" y="620" width="13" height="12" class="f"/>
<rect x="859" y="520" width="13" height="112" class="v"/><rect x="874" y="523.2" width="13" height="108.8" class="f"/>
<rect x="901.5" y="576" width="13" height="56" class="v"/><rect x="916.5" y="569.6" width="13" height="62.4" class="f"/>
</g>
<g class="pt"><circle cx="780" cy="624" r="1.8"/><circle cx="795" cy="624" r="1.8"/><circle cx="823" cy="615" r="1.8"/><circle cx="838" cy="620" r="1.8"/>
<circle cx="865" cy="518" r="1.8"/><circle cx="866" cy="522" r="1.8"/><circle cx="880" cy="521" r="1.8"/><circle cx="881" cy="525" r="1.8"/>
<circle cx="908" cy="575" r="1.8"/><circle cx="923" cy="569" r="1.8"/></g>
<line x1="822" y1="606" x2="841" y2="606" stroke="#333" stroke-width=".9"/><text x="832" y="601" class="pv" text-anchor="middle">**<tspan font-style="italic">P</tspan> = 0.0019</text>
<line x1="904" y1="561" x2="923" y2="561" stroke="#333" stroke-width=".9"/><text x="914" y="557" class="pv" text-anchor="middle">**<tspan font-style="italic">P</tspan> = 0.0033</text>
</svg>
</body></html>
